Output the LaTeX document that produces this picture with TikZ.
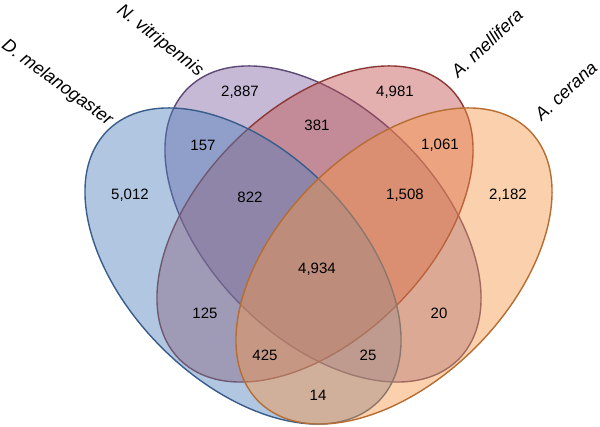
\documentclass[tikz,border=0pt]{standalone}
\usepackage{fontspec}
\setmainfont{Liberation Sans}
\usepackage{xcolor}
\usetikzlibrary{positioning}

\definecolor{dmelfill}{HTML}{4F81BD}
\definecolor{dmeledge}{HTML}{385D8A}
\definecolor{nvitfill}{HTML}{8064A2}
\definecolor{nvitedge}{HTML}{5C4776}
\definecolor{amelfill}{HTML}{C0504D}
\definecolor{ameledge}{HTML}{8C3836}
\definecolor{acerfill}{HTML}{F79646}
\definecolor{aceredge}{HTML}{B66D31}

\tikzset{
  setshape/.style={line width=1.4pt, fill opacity=0.45},
  count/.style={font=\fontsize{15}{18}\selectfont},
  species/.style={font=\fontsize{18}{21}\selectfont\itshape}
}

\begin{document}
\begin{tikzpicture}[x=1pt, y=1pt]
\useasboundingbox (0,0) rectangle (600,427);

% Species sets (stacking order as in the figure)
\draw[setshape, draw=nvitedge, fill=nvitfill] (323,203) ellipse [x radius=191.5, y radius=115.2, rotate=-45];
\draw[setshape, draw=ameledge, fill=amelfill] (315,203) ellipse [x radius=191.5, y radius=115.2, rotate=45];
\draw[setshape, draw=dmeledge, fill=dmelfill] (243,161) ellipse [x radius=191.5, y radius=115.2, rotate=-45];
\draw[setshape, draw=aceredge, fill=acerfill] (394,161) ellipse [x radius=191.5, y radius=115.2, rotate=45];

% Species names
\node[species, rotate=-36] (dmel) at (57,344) {D. melanogaster};
\node[species, rotate=-38] (nvit) at (160,386) {N. vitripennis};
\node[species, rotate=43] (amel) at (487,384) {A. mellifera};
\node[species, rotate=43] (acer) at (566,336) {A. cerana};

% Counts in each region
\foreach \name/\x/\y/\num in {d/130/232/{5,012}, n/240/335/{2,887}, dn/203/282/157, dna/250/230/822,
    a/395/335/{4,981}, na/317/302/381, ac/440/282/{1,061}, nac/405/232/{1,508}, c/508/232/{2,182},
    all/317/158/{4,934}, da/205/114/125, nc/439/114/20, dnc/265/72/425, dac/368/72/25, dc/318/32/14} {
   \node[count] (r\name) at (\x,\y) {\num};
}
\end{tikzpicture}
\end{document}
